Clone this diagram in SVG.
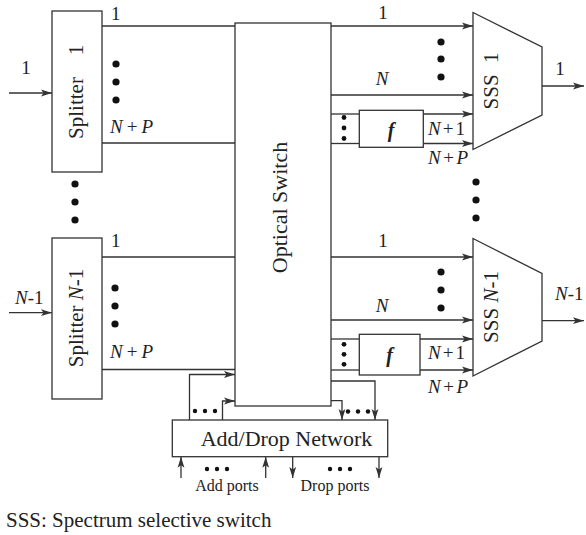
<svg xmlns="http://www.w3.org/2000/svg" width="586" height="535" viewBox="0 0 586 535">
<style>
.box{fill:#fff;stroke:#333;stroke-width:1.3}
.ln{fill:none;stroke:#333;stroke-width:1.3}
.ar{marker-end:url(#ah)}
text{font-family:"Liberation Serif","Times New Roman",serif;fill:#222}
.lb{font-size:19px}
.it{font-style:italic}
.big{font-size:22px}
.dot{fill:#111}
</style>
<defs>
<marker id="ah" markerUnits="userSpaceOnUse" markerWidth="12" markerHeight="8" refX="11" refY="4" orient="auto">
<path d="M0,0.6 L11,4 L0,7.4 L2.5,4 z" fill="#333"/>
</marker>
</defs>
<rect width="586" height="535" fill="#fff"/>

<g id="connectors">
<path class="ln ar" d="M9,93 H52"/>
<path class="ln ar" d="M9,312.7 H52"/>
<path class="ln" d="M102,26 H235"/>
<path class="ln" d="M102,143 H235"/>
<path class="ln" d="M102,257 H235"/>
<path class="ln" d="M102,369.5 H235"/>
<path class="ln ar" d="M331,26 H473"/>
<path class="ln ar" d="M331,95 H473"/>
<path class="ln" d="M331,114 H359"/>
<path class="ln ar" d="M423,114 H473"/>
<path class="ln" d="M331,143.5 H359"/>
<path class="ln ar" d="M423,143.5 H473"/>
<path class="ln ar" d="M542,86 H584"/>
<path class="ln ar" d="M331,257 H473"/>
<path class="ln ar" d="M331,320 H473"/>
<path class="ln" d="M331,339 H359"/>
<path class="ln ar" d="M420,339 H473"/>
<path class="ln" d="M331,370 H359"/>
<path class="ln ar" d="M420,370 H473"/>
<path class="ln ar" d="M542,320.7 H584"/>
<path class="ln ar" d="M189.5,420 V374.5 H235"/>
<path class="ln ar" d="M222.5,420 V401 H235"/>
<path class="ln ar" d="M331,381 H375 V420"/>
<path class="ln ar" d="M331,400.7 H342 V420"/>
<path class="ln ar" d="M181,478 V456.7"/>
<path class="ln ar" d="M265.7,478 V456.7"/>
<path class="ln ar" d="M292.7,456.7 V478"/>
<path class="ln ar" d="M379,456.7 V478"/>
</g>

<g id="splitter1">
<rect class="box" x="52" y="11" width="50" height="161"/>
<text transform="translate(83,108) rotate(-90)" text-anchor="middle" style="font-size:21px">Splitter</text>
<text style="font-size:21px" transform="translate(83,50) rotate(-90)" text-anchor="middle">1</text>
</g>

<g id="splitterN1">
<rect class="box" x="52" y="238" width="50" height="161"/>
<text style="font-size:21px" transform="translate(83,318) rotate(-90)" text-anchor="middle">Splitter <tspan class="it">N</tspan>-1</text>
</g>

<g id="optical-switch">
<rect class="box" x="235" y="23" width="96" height="383"/>
<text class="big" transform="translate(287,207.5) rotate(-90)" text-anchor="middle">Optical Switch</text>
</g>

<g id="sss1">
<polygon class="box" points="473,12.5 542,47 542,115 473,149.5"/>
<text style="font-size:21px" transform="translate(498,81) rotate(-90)" text-anchor="middle">SSS <tspan dx="6">1</tspan></text>
</g>

<g id="sssN1">
<polygon class="box" points="473,238.5 542,273.5 542,341 473,376"/>
<text style="font-size:21px" transform="translate(498,307) rotate(-90)" text-anchor="middle">SSS <tspan class="it">N</tspan>-1</text>
</g>

<g id="f1">
<rect class="box" x="359.3" y="110.3" width="64" height="37"/>
<text x="391" y="137" text-anchor="middle" font-size="20" font-style="italic" font-weight="bold">f</text>
</g>

<g id="f2">
<rect class="box" x="359.3" y="334.3" width="60.7" height="40.7"/>
<text x="389.5" y="362" text-anchor="middle" font-size="20" font-style="italic" font-weight="bold">f</text>
</g>

<g id="add-drop">
<rect class="box" x="172.3" y="420" width="215.4" height="36.7"/>
<text class="big" x="286.5" y="445.5" text-anchor="middle">Add/Drop Network</text>
</g>

<g id="labels">
<text class="lb" x="26" y="74" text-anchor="middle">1</text>
<text class="lb" x="15" y="304"><tspan class="it">N</tspan>-1</text>
<text class="lb" x="111" y="20">1</text>
<text class="lb" x="111" y="247">1</text>
<text class="lb" x="110" y="133" textLength="43" lengthAdjust="spacing"><tspan class="it">N</tspan>+<tspan class="it">P</tspan></text>
<text class="lb" x="110" y="358" textLength="43" lengthAdjust="spacing"><tspan class="it">N</tspan>+<tspan class="it">P</tspan></text>
<text class="lb" x="383" y="19" text-anchor="middle">1</text>
<text class="lb it" x="382" y="85" text-anchor="middle">N</text>
<text class="lb" x="428" y="135" textLength="37" lengthAdjust="spacing"><tspan class="it">N</tspan>+1</text>
<text class="lb" x="428" y="164" textLength="40" lengthAdjust="spacing"><tspan class="it">N</tspan>+<tspan class="it">P</tspan></text>
<text class="lb" x="560" y="75" text-anchor="middle">1</text>
<text class="lb" x="383" y="247" text-anchor="middle">1</text>
<text class="lb it" x="382" y="312" text-anchor="middle">N</text>
<text class="lb" x="428" y="358.5" textLength="37" lengthAdjust="spacing"><tspan class="it">N</tspan>+1</text>
<text class="lb" x="428" y="393" textLength="40" lengthAdjust="spacing"><tspan class="it">N</tspan>+<tspan class="it">P</tspan></text>
<text class="lb" x="555" y="300"><tspan class="it">N</tspan>-1</text>
<text x="227" y="491" text-anchor="middle" style="font-size:16px">Add ports</text>
<text x="335" y="491" text-anchor="middle" style="font-size:16px">Drop ports</text>
<text x="6" y="527" style="font-size:21px">SSS: Spectrum selective switch</text>
</g>

<g id="dots">
<circle class="dot" cx="116" cy="64" r="3.6"/><circle class="dot" cx="116" cy="82" r="3.6"/><circle class="dot" cx="116" cy="100" r="3.6"/>
<circle class="dot" cx="115" cy="288" r="3.6"/><circle class="dot" cx="115" cy="306" r="3.6"/><circle class="dot" cx="115" cy="324" r="3.6"/>
<circle class="dot" cx="75" cy="184" r="3.6"/><circle class="dot" cx="75" cy="202" r="3.6"/><circle class="dot" cx="75" cy="220" r="3.6"/>
<circle class="dot" cx="441" cy="42" r="3.6"/><circle class="dot" cx="441" cy="59" r="3.6"/><circle class="dot" cx="441" cy="77" r="3.6"/>
<circle class="dot" cx="441" cy="272" r="3.6"/><circle class="dot" cx="441" cy="290" r="3.6"/><circle class="dot" cx="441" cy="308" r="3.6"/>
<circle class="dot" cx="476" cy="182" r="3.6"/><circle class="dot" cx="476" cy="200" r="3.6"/><circle class="dot" cx="476" cy="218" r="3.6"/>
<circle class="dot" cx="344" cy="117.5" r="2.4"/><circle class="dot" cx="344" cy="128" r="2.4"/><circle class="dot" cx="344" cy="138.5" r="2.4"/>
<circle class="dot" cx="344" cy="344.3" r="2.4"/><circle class="dot" cx="344" cy="354.3" r="2.4"/><circle class="dot" cx="344" cy="364.3" r="2.4"/>
<circle class="dot" cx="195" cy="411" r="2.2"/><circle class="dot" cx="205" cy="411" r="2.2"/><circle class="dot" cx="215" cy="411" r="2.2"/>
<circle class="dot" cx="348" cy="411.5" r="2.2"/><circle class="dot" cx="358" cy="411.5" r="2.2"/><circle class="dot" cx="368" cy="411.5" r="2.2"/>
<circle class="dot" cx="207" cy="469" r="2.2"/><circle class="dot" cx="217" cy="469" r="2.2"/><circle class="dot" cx="227" cy="469" r="2.2"/>
<circle class="dot" cx="330" cy="469" r="2.2"/><circle class="dot" cx="340" cy="469" r="2.2"/><circle class="dot" cx="350" cy="469" r="2.2"/>
</g>
</svg>
